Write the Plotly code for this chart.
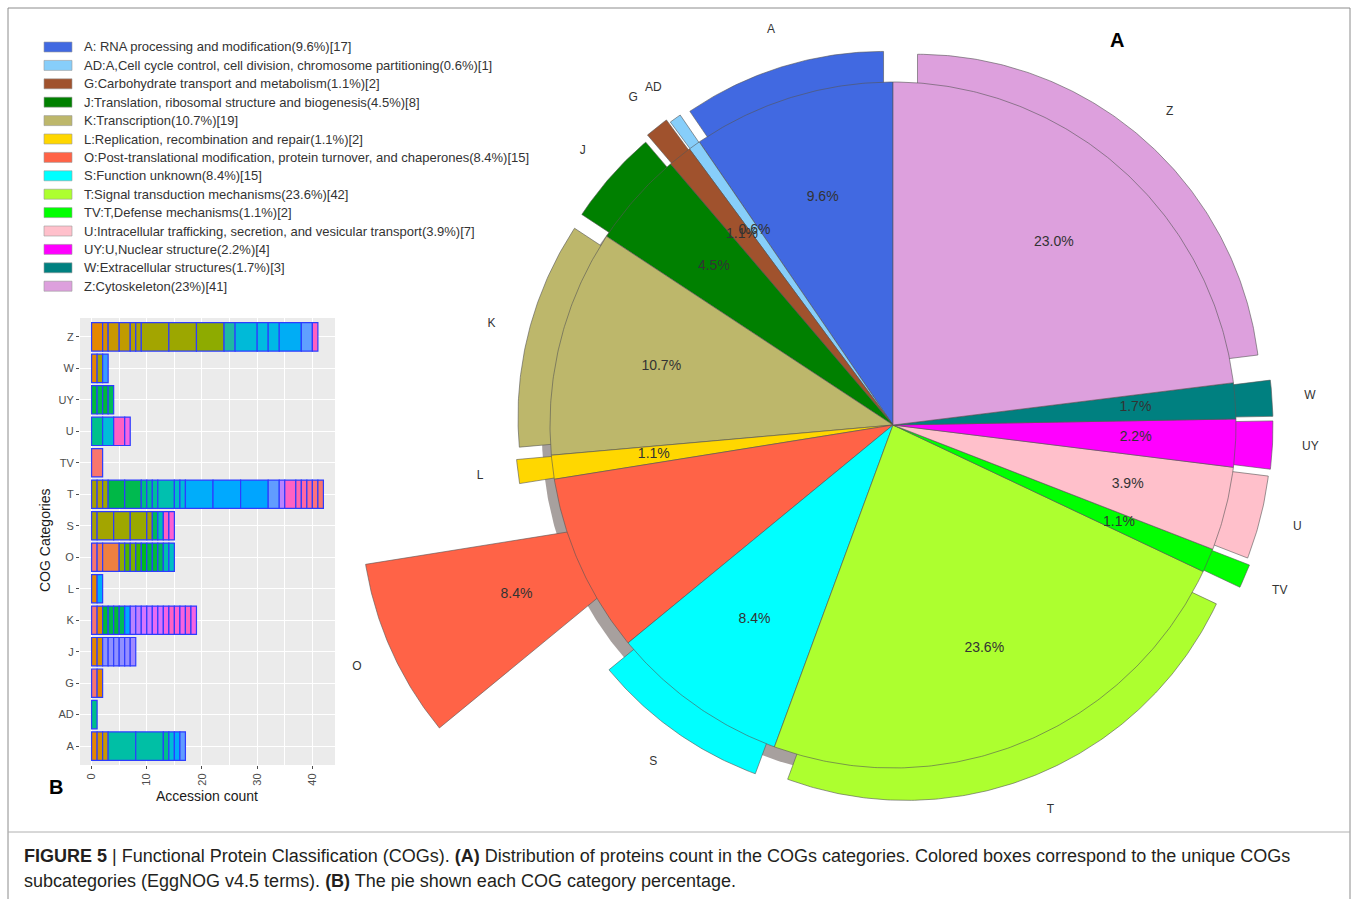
import math
import plotly.graph_objects as go

# ---------------- data ----------------
categories = ["A", "AD", "G", "J", "K", "L", "O", "S", "T", "TV", "U", "UY", "W", "Z"]
counts = [17, 1, 2, 8, 19, 2, 15, 15, 42, 2, 7, 4, 3, 41]
pct_labels = ["9.6%", "0.6%", "1.1%", "4.5%", "10.7%", "1.1%", "8.4%", "8.4%",
              "23.6%", "1.1%", "3.9%", "2.2%", "1.7%", "23.0%"]
legend_labels = [
    "A: RNA processing and modification(9.6%)[17]",
    "AD:A,Cell cycle control, cell division, chromosome partitioning(0.6%)[1]",
    "G:Carbohydrate transport and metabolism(1.1%)[2]",
    "J:Translation, ribosomal structure and biogenesis(4.5%)[8]",
    "K:Transcription(10.7%)[19]",
    "L:Replication, recombination and repair(1.1%)[2]",
    "O:Post-translational modification, protein turnover, and chaperones(8.4%)[15]",
    "S:Function unknown(8.4%)[15]",
    "T:Signal transduction mechanisms(23.6%)[42]",
    "TV:T,Defense mechanisms(1.1%)[2]",
    "U:Intracellular trafficking, secretion, and vesicular transport(3.9%)[7]",
    "UY:U,Nuclear structure(2.2%)[4]",
    "W:Extracellular structures(1.7%)[3]",
    "Z:Cytoskeleton(23%)[41]",
]
# proteins per unique subcategory, stacked left to right in each COG bar
subcat_counts = {
    "A": [1, 1, 1, 5, 5, 1, 1, 1, 1],
    "AD": [1],
    "G": [1, 1],
    "J": [1, 1, 1, 1, 1, 1, 1, 1],
    "K": [1, 1, 1, 1, 1, 1, 1, 1, 1, 1, 1, 1, 1, 1, 1, 1, 1, 1, 1],
    "L": [1, 1],
    "O": [1, 1, 3, 1, 1, 1, 1, 1, 1, 1, 1, 1, 1],
    "S": [1, 3, 3, 3, 1, 1, 1, 1, 1],
    "T": [1, 1, 1, 3, 3, 1, 1, 1, 3, 1, 1, 5, 5, 5, 2, 1, 2, 1, 1, 1, 1, 1],
    "TV": [2],
    "U": [2, 2, 2, 1],
    "UY": [1, 1, 1, 1],
    "W": [1, 1, 1],
    "Z": [2, 1, 2, 2, 1, 1, 5, 5, 5, 2, 4, 2, 2, 4, 2, 1],
}
x_ticks = [0, 10, 20, 30, 40]

# ---------------- styles ----------------
pie_colors = ["#4169E1", "#87CEFA", "#A0522D", "#008000", "#BDB76B", "#FFD700",
              "#FF6347", "#00FFFF", "#ADFF2F", "#00FF00", "#FFC0CB", "#FF00FF",
              "#008080", "#DDA0DD"]
subcat_colors = {
    "A": ["#E58700", "#D38F00", "#C99800", "#00BFA5", "#00BFA5", "#00C08B",
          "#00BCD8", "#00ADFA", "#619CFF"],
    "AD": ["#00BF8A"],
    "G": ["#F8766D", "#E58700"],
    "J": ["#E58700", "#D89000", "#8B93FF", "#8F91FF", "#8F91FF", "#9190FF",
          "#958EFF", "#A08AFF"],
    "K": ["#F8766D", "#E58700", "#00BA38", "#00B84A", "#00BA38", "#00BC59",
          "#00A9FF", "#B983FF", "#C27EFF", "#D575FE", "#CF78FF", "#E76BF3",
          "#DC71FA", "#F564E3", "#FF61C3", "#FD61D1", "#F763E0", "#FF61C3",
          "#F564E3"],
    "L": ["#E58700", "#00ADFA"],
    "O": ["#F8766D", "#F17E4F", "#EE8040", "#8EAB00", "#4CB500", "#7CAE00",
          "#3DB600", "#00B81F", "#00BA38", "#00BA38", "#00BC59", "#00C0AF",
          "#00BFC4"],
    "S": ["#A8A000", "#A3A500", "#9EA700", "#99A800", "#A39F00", "#00BA5A",
          "#00BFB0", "#FF61C3", "#FD61D1"],
    "T": ["#A8A000", "#B39E00", "#A0A800", "#00B846", "#00BA50", "#00BF7D",
          "#00C08B", "#00C097", "#00C0AF", "#00BFC4", "#00BCD8", "#00ADFA",
          "#00A9FF", "#00A5FF", "#619CFF", "#B983FF", "#FF61C3", "#FF65AE",
          "#FF67A4", "#FF6C91", "#FC717F", "#F8766D"],
    "TV": ["#F8766D"],
    "U": ["#00C08B", "#00BCD8", "#FF61C3", "#F564E3"],
    "UY": ["#00BA38", "#00BC4A", "#00BA38", "#00BC59"],
    "W": ["#E58700", "#A3A500", "#3A9BFF"],
    "Z": ["#E58700", "#D89000", "#C99800", "#C09B00", "#B79F00", "#AEA200",
          "#A3A500", "#9CA700", "#8EAB00", "#1FB9A3", "#00BAD8", "#00BBE0",
          "#00B8E5", "#00ADF5", "#60A0FF", "#FF60C0"],
}
# outward shift (px) of each exploded slice copy
explode_px = {"A": 32, "AD": 33, "G": 37, "J": 33, "K": 33, "L": 35, "O": 207,
              "S": 33, "T": 35, "TV": 40, "U": 36, "UY": 37, "W": 37, "Z": 37}

W, H = 1358, 899
FONT = "Liberation Sans, Arial, sans-serif"
PIE_R = 343
CX, CY = 893, 425  # pie centre in page pixels
PIE_X0 = 0.255


def px_x(px):
    return px / W


def px_y(py):
    return 1 - py / H


fig = go.Figure()

# ---------------- panel B: stacked subcategory bars ----------------
max_seg = max(len(v) for v in subcat_counts.values())
for i in range(max_seg):
    ys, xs, bases, cols = [], [], [], []
    for c in categories:
        segs = subcat_counts[c]
        if len(segs) > i:
            ys.append(c)
            xs.append(segs[i])
            bases.append(sum(segs[:i]))
            cols.append(subcat_colors[c][i])
    fig.add_trace(go.Bar(
        x=xs, y=ys, base=bases, orientation="h", width=0.9,
        marker=dict(color=cols, line=dict(color="rgb(45,60,255)", width=1.2)),
        showlegend=False, hoverinfo="skip", xaxis="x", yaxis="y",
    ))

# ---------------- panel A: exploded pie ----------------
total = sum(counts)


def direction(phi):
    # angle measured counter-clockwise from 12 o'clock; y axis points up
    r = math.radians(phi)
    return -math.sin(r), math.cos(r)


def wedge(ox, oy, r, a0, a1):
    n = max(int(abs(a1 - a0) / 0.5), 2)
    xs, ys = [ox], [oy]
    for k in range(n + 1):
        a = a0 + (a1 - a0) * k / n
        dx, dy = direction(a)
        xs.append(ox + r * dx)
        ys.append(oy + r * dy)
    xs.append(ox)
    ys.append(oy)
    return xs, ys


starts, ends = [], []
cum = 0
for v in counts:
    starts.append(360 * cum / total)
    cum += v
    ends.append(360 * cum / total)

# soft shadow beneath the pie
sx, sy = wedge(-8, -10, PIE_R, 0, 360)
fig.add_trace(go.Scatter(x=sx[1:-1], y=sy[1:-1], fill="toself", mode="lines",
                         fillcolor="rgba(60,45,40,0.45)", line=dict(width=0),
                         showlegend=False, hoverinfo="skip", xaxis="x2", yaxis="y2"))

# exploded copies
for c, a0, a1, col in zip(categories, starts, ends, pie_colors):
    mid = (a0 + a1) / 2
    dx, dy = direction(mid)
    d = explode_px[c]
    xs, ys = wedge(d * dx, d * dy, PIE_R, a0, a1)
    fig.add_trace(go.Scatter(x=xs, y=ys, fill="toself", mode="lines",
                             fillcolor=col, line=dict(color="#555555", width=0.6),
                             showlegend=False, hoverinfo="skip", xaxis="x2", yaxis="y2"))

# main pie
for c, a0, a1, col in zip(categories, starts, ends, pie_colors):
    xs, ys = wedge(0, 0, PIE_R, a0, a1)
    fig.add_trace(go.Scatter(x=xs, y=ys, fill="toself", mode="lines",
                             fillcolor=col, line=dict(color="#555555", width=0.6),
                             showlegend=False, hoverinfo="skip", xaxis="x2", yaxis="y2"))

# percentage and category labels
lx, ly, tx, ty = [], [], [], []
for c, a0, a1 in zip(categories, starts, ends):
    mid = (a0 + a1) / 2
    dx, dy = direction(mid)
    d = explode_px[c]
    lx.append((d + 206) * dx)
    ly.append((d + 206) * dy)
    tx.append((d + 381) * dx)
    ty.append((d + 381) * dy)
fig.add_trace(go.Scatter(x=lx, y=ly, mode="text", text=pct_labels,
                         textfont=dict(family=FONT, size=14, color="#333333"),
                         cliponaxis=False, showlegend=False, hoverinfo="skip",
                         xaxis="x2", yaxis="y2"))
fig.add_trace(go.Scatter(x=tx, y=ty, mode="text", text=categories,
                         textfont=dict(family=FONT, size=12, color="#333333"),
                         cliponaxis=False, showlegend=False, hoverinfo="skip",
                         xaxis="x2", yaxis="y2"))

# ---------------- layout ----------------
shapes = []
annotations = []

# grey ggplot panel
shapes.append(dict(type="rect", xref="x domain", yref="y domain", x0=0, x1=1, y0=0, y1=1,
                   fillcolor="#EBEBEB", line=dict(width=0), layer="below"))

# figure frame and caption separator
shapes.append(dict(type="rect", xref="paper", yref="paper",
                   x0=px_x(8), x1=px_x(1350), y0=px_y(905), y1=px_y(8),
                   line=dict(color="#8c8c8c", width=1), fillcolor="rgba(0,0,0,0)"))
shapes.append(dict(type="line", xref="paper", yref="paper",
                   x0=px_x(8), x1=px_x(1350), y0=px_y(832), y1=px_y(832),
                   line=dict(color="#b0b0b0", width=1)))


def note(x, y, text, size, color="#333333", xanchor="center", bold=False, angle=0,
         family=FONT):
    return dict(x=px_x(x), y=px_y(y), xref="paper", yref="paper",
                text=f"<b>{text}</b>" if bold else text, showarrow=False,
                xanchor=xanchor, yanchor="middle", textangle=angle,
                font=dict(family=family, size=size, color=color))


# legend keys
for i, (lab, col) in enumerate(zip(legend_labels, pie_colors)):
    yc = 47 + i * 18.4
    shapes.append(dict(type="rect", xref="paper", yref="paper",
                       x0=px_x(44), x1=px_x(72), y0=px_y(yc + 5), y1=px_y(yc - 5),
                       fillcolor=col, line=dict(color="#9a9a9a", width=0.6)))
    annotations.append(note(82, yc, lab, 13, xanchor="left"))

# panel letters and axis titles
annotations += [
    note(1117, 40, "A", 20, "#000000", bold=True),
    note(56, 787, "B", 20, "#000000", bold=True),
    note(207, 796, "Accession count", 14, "#1a1a1a"),
    note(45, 541, "COG Categories", 14, "#1a1a1a", angle=-90),
]

# caption
annotations += [
    note(22, 856,
         "<b>FIGURE 5</b> | Functional Protein Classification (COGs). <b>(A)</b> "
         "Distribution of proteins count in the COGs categories. Colored boxes "
         "correspond to the unique COGs", 18, "#231f20", xanchor="left"),
    note(22, 881,
         "subcategories (EggNOG v4.5 terms). <b>(B)</b> The pie shown each COG "
         "category percentage.", 18, "#231f20", xanchor="left"),
]

fig.update_layout(
    width=W, height=H,
    margin=dict(l=0, r=0, t=0, b=0),
    paper_bgcolor="white",
    plot_bgcolor="rgba(0,0,0,0)",
    barmode="overlay",
    font=dict(family=FONT),
    shapes=shapes,
    annotations=annotations,
    xaxis=dict(
        domain=[px_x(80), px_x(335)], anchor="y", range=[-2.1, 44.1],
        tickvals=x_ticks, tickangle=-90,
        tickfont=dict(family=FONT, size=11, color="#4D4D4D"),
        ticks="outside", ticklen=3, tickcolor="#4D4D4D", tickwidth=1,
        showgrid=True, gridcolor="white", gridwidth=1.1, zeroline=False,
        showline=False,
        minor=dict(dtick=5, tick0=0, showgrid=True, gridcolor="white", gridwidth=0.5),
    ),
    yaxis=dict(
        domain=[px_y(765), px_y(318)], anchor="x",
        type="category", categoryorder="array", categoryarray=categories,
        range=[-0.6, len(categories) - 0.4],
        tickfont=dict(family=FONT, size=11, color="#4D4D4D"),
        ticks="outside", ticklen=3, tickcolor="#4D4D4D", tickwidth=1,
        showgrid=True, gridcolor="white", gridwidth=1.1, zeroline=False,
        showline=False,
    ),
    xaxis2=dict(domain=[PIE_X0, 1], anchor="y2",
                range=[PIE_X0 * W - CX, W - CX], visible=False, fixedrange=True),
    yaxis2=dict(domain=[0, 1], anchor="x2",
                range=[-(H - CY), CY], visible=False, fixedrange=True),
)

fig.write_html("out.html")
